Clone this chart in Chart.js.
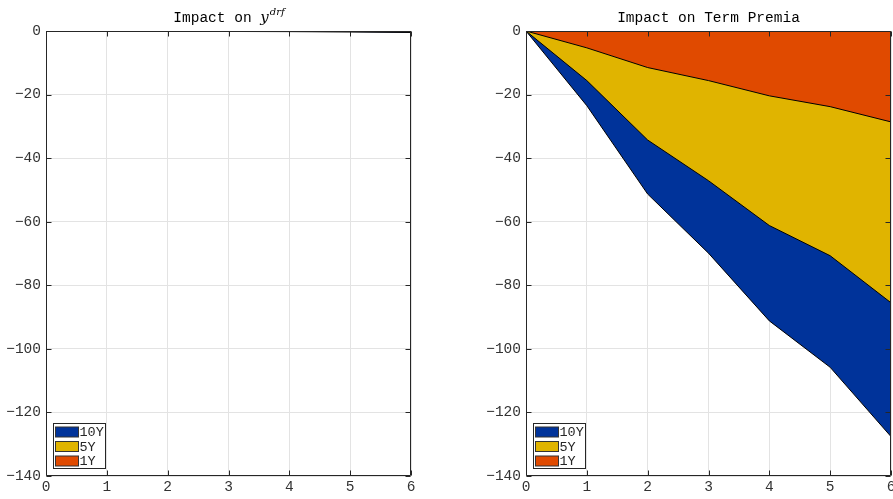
<!DOCTYPE html>
<html>
<head>
<meta charset="utf-8">
<script src="https://cdn.jsdelivr.net/npm/chart.js@4.4.1/dist/chart.umd.min.js"></script>
<style>
  html, body { margin: 0; padding: 0; background: #fff; overflow: hidden; }
  .panel { position: absolute; top: 0; height: 499px; width: 420px; }
  #left { left: 0; }
  #right { left: 480px; }
</style>
</head>
<body>
<div class="panel" id="left"><canvas id="chartDrf"></canvas></div>
<div class="panel" id="right"><canvas id="chartTp"></canvas></div>
<script>
// horizons on the x axis
const horizons = [0, 1, 2, 3, 4, 5, 6];
const seriesNames = ['10Y', '5Y', '1Y'];
const seriesColors = ['#00339a', '#e0b400', '#e04a00'];

// impact on y^drf (almost flat)
const drf10Y = [0, -0.05, -0.1, -0.15, -0.2, -0.3, -0.45];
const drf5Y = [0, -0.03, -0.06, -0.1, -0.14, -0.2, -0.3];
const drf1Y = [0, -0.01, -0.02, -0.04, -0.06, -0.08, -0.12];

// impact on term premia
const tp10Y = [0, -23.5, -51.3, -69.9, -91.2, -105.8, -127.6];
const tp5Y = [0, -15.6, -34.3, -47.1, -61.2, -70.7, -85.5];
const tp1Y = [0, -5.3, -11.5, -15.6, -20.4, -23.8, -28.6];

const yTicks = [0, -20, -40, -60, -80, -100, -120, -140];

const MONO = '"Liberation Mono", "DejaVu Sans Mono", monospace';
const AXIS = '#262626';

function makeDatasets(values) {
  return values.map((v, i) => ({
    label: seriesNames[i],
    data: horizons.map((h, k) => ({ x: h, y: v[k] })),
    backgroundColor: seriesColors[i],
    borderColor: '#000',
    borderWidth: 1,
    pointRadius: 0,
    tension: 0,
    fill: 'origin',
    order: values.length - i   // 1Y ends up on top
  }));
}

// axes box, inward ticks, title and legend
const framePlugin = {
  id: 'frame',
  afterDraw(chart, args, opts) {
    const { ctx, chartArea: a, scales: { x, y } } = chart;
    ctx.save();
    ctx.strokeStyle = AXIS;
    ctx.lineWidth = 1;
    ctx.beginPath();
    const L = Math.round(a.left) + 0.5, R = Math.round(a.right) - 0.5;
    const T = Math.round(a.top) + 0.5, B = Math.round(a.bottom) - 0.5;
    ctx.rect(L, T, R - L, B - T);
    const tl = 5;
    horizons.forEach(h => {
      const px = Math.round(x.getPixelForValue(h)) + 0.5;
      ctx.moveTo(px, B); ctx.lineTo(px, B - tl);
      ctx.moveTo(px, T); ctx.lineTo(px, T + tl);
    });
    yTicks.forEach(t => {
      const py = Math.round(y.getPixelForValue(t)) + 0.5;
      ctx.moveTo(L, py); ctx.lineTo(L + tl, py);
      ctx.moveTo(R, py); ctx.lineTo(R - tl, py);
    });
    ctx.stroke();

    // title
    const cx = (a.left + a.right) / 2;
    const base = 22;
    ctx.fillStyle = '#000';
    ctx.textBaseline = 'alphabetic';
    if (opts.sup) {
      const f1 = '14.5px ' + MONO;
      const f2 = 'italic 15px "DejaVu Serif", "Liberation Serif", serif';
      const f3 = 'italic 10px "DejaVu Serif", "Liberation Serif", serif';
      ctx.font = f1; const w1 = ctx.measureText(opts.title).width;
      ctx.font = f2; const w2 = ctx.measureText('y').width;
      ctx.font = f3; const w3 = ctx.measureText(opts.sup).width;
      let sx = cx - (w1 + w2 + w3) / 2;
      ctx.textAlign = 'left';
      ctx.font = f1; ctx.fillText(opts.title, sx, base); sx += w1;
      ctx.font = f2; ctx.fillText('y', sx, base); sx += w2 + 1;
      ctx.font = f3; ctx.fillText(opts.sup, sx, base - 7);
    } else {
      ctx.font = '14.5px ' + MONO;
      ctx.textAlign = 'center';
      ctx.fillText(opts.title, cx, base);
    }

    // legend in the lower left corner
    const bw = 52, bh = 45;
    const bx = Math.round(a.left) + 7.5, by = Math.round(a.bottom) - 7.5 - bh;
    ctx.fillStyle = '#fff';
    ctx.fillRect(bx, by, bw, bh);
    ctx.strokeStyle = AXIS;
    ctx.strokeRect(bx, by, bw, bh);
    ctx.font = '13.5px ' + MONO;
    ctx.textAlign = 'left';
    ctx.textBaseline = 'middle';
    seriesNames.forEach((name, i) => {
      const ry = by + 8 + i * 14.5;
      ctx.fillStyle = seriesColors[i];
      ctx.fillRect(bx + 2, ry - 4.5, 23, 10);
      ctx.strokeStyle = '#333';
      ctx.strokeRect(bx + 2, ry - 4.5, 23, 10);
      ctx.fillStyle = AXIS;
      ctx.fillText(name, bx + 26, ry + 1);
    });
    ctx.restore();
  }
};

function makeChart(id, values, title, sup) {
  return new Chart(document.getElementById(id), {
    type: 'line',
    data: { datasets: makeDatasets(values) },
    plugins: [framePlugin],
    options: {
      responsive: true,
      maintainAspectRatio: false,
      animation: false,
      layout: { padding: { top: 31, right: 9, bottom: 0, left: 0 } },
      plugins: {
        legend: { display: false },
        tooltip: { enabled: false },
        frame: { title: title, sup: sup }
      },
      scales: {
        x: {
          type: 'linear',
          min: 0, max: 6,
          afterFit: s => { s.height = 23; },
          ticks: { stepSize: 1, color: '#333', padding: 2, maxRotation: 0,
                   font: { family: MONO, size: 14.5 } },
          grid: { color: '#e3e3e3', drawTicks: false },
          border: { display: false }
        },
        y: {
          min: -140, max: 0,
          afterFit: s => { s.width = 46; },
          afterBuildTicks: s => { s.ticks = yTicks.map(v => ({ value: v })); },
          ticks: { color: '#333', padding: 5,
                   font: { family: MONO, size: 14.5 },
                   callback: v => String(v).replace('-', '\u2212') },
          grid: { color: '#e3e3e3', drawTicks: false },
          border: { display: false }
        }
      }
    }
  });
}

makeChart('chartDrf', [drf10Y, drf5Y, drf1Y], 'Impact on ', 'drf');
makeChart('chartTp', [tp10Y, tp5Y, tp1Y], 'Impact on Term Premia', null);
</script>
</body>
</html>
